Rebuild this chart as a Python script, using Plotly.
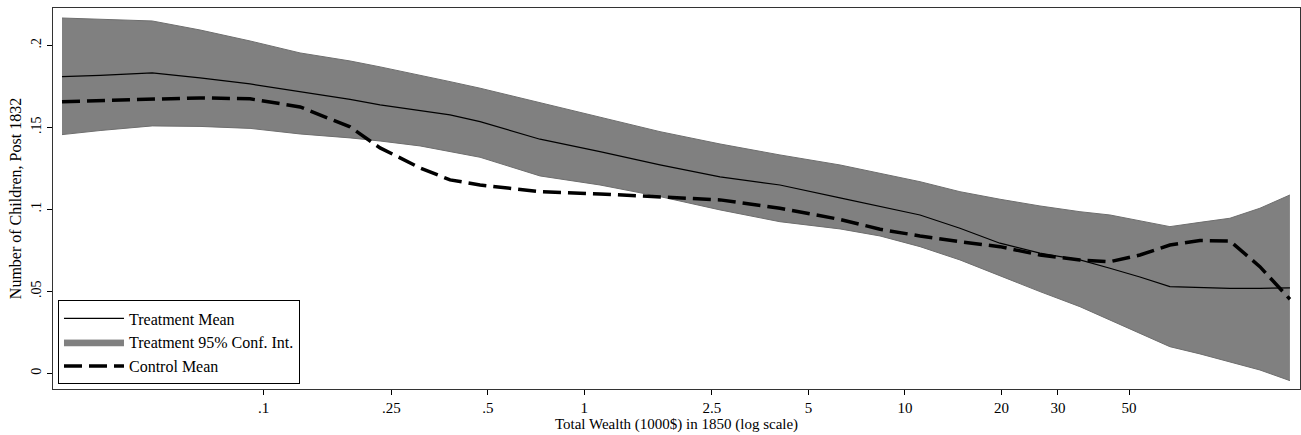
import plotly.graph_objects as go

# Total wealth (1000$) in 1850, log-scale positions of the sampled points
wealth = [0.0235, 0.0309, 0.0449, 0.0633, 0.0907, 0.1299, 0.186, 0.2307, 0.3074, 0.3813,
          0.4730, 0.7276, 1.119, 1.722, 2.650, 4.075, 6.271, 8.36, 11.14, 14.84,
          19.78, 26.36, 35.13, 43.57, 54.05, 67.03, 83.17, 103.1, 127.9, 158.7]

treat_upper = [0.2166, 0.2160, 0.2148, 0.2093, 0.2026, 0.1953, 0.1904, 0.1868, 0.1819, 0.1778,
               0.1738, 0.1650, 0.1565, 0.1473, 0.1398, 0.1331, 0.1270, 0.1220, 0.1168, 0.1107,
               0.1061, 0.1020, 0.0985, 0.0965, 0.0929, 0.0894, 0.0920, 0.0945, 0.1006, 0.1087]

treat_mean = [0.1809, 0.1816, 0.1831, 0.1801, 0.1764, 0.1715, 0.1670, 0.1636, 0.1599, 0.1575,
              0.1534, 0.1427, 0.1351, 0.1270, 0.1197, 0.1148, 0.1069, 0.1016, 0.0965, 0.0884,
              0.0793, 0.0732, 0.0691, 0.0640, 0.0587, 0.0528, 0.0523, 0.0518, 0.0518, 0.0520]

treat_lower = [0.1455, 0.1480, 0.1508, 0.1505, 0.1493, 0.1459, 0.1435, 0.1416, 0.1386, 0.1351,
               0.1317, 0.1203, 0.1148, 0.1077, 0.0996, 0.0924, 0.0880, 0.0837, 0.0772, 0.0691,
               0.0593, 0.0498, 0.0406, 0.0325, 0.0246, 0.0162, 0.0118, 0.0071, 0.0020, -0.0045]

control_mean = [0.1656, 0.1662, 0.1673, 0.1679, 0.1673, 0.1624, 0.1502, 0.1374, 0.1252, 0.1179,
                0.1148, 0.1107, 0.1093, 0.1077, 0.1057, 0.1006, 0.0938, 0.0878, 0.0837, 0.0802,
                0.0772, 0.0721, 0.0691, 0.0680, 0.0721, 0.0782, 0.0809, 0.0807, 0.0650, 0.0451]

x_tick_vals = [0.1, 0.25, 0.5, 1, 2.5, 5, 10, 20, 30, 50]
x_tick_text = [".1", ".25", ".5", "1", "2.5", "5", "10", "20", "30", "50"]
y_tick_vals = [0, 0.05, 0.1, 0.15, 0.2]
y_tick_text = ["0", ".05", ".1", ".15", ".2"]

FONT = "Liberation Serif"

fig = go.Figure()

# Lower bound of the band (base for the fill)
fig.add_trace(go.Scatter(
    x=wealth, y=treat_lower, mode="lines",
    line=dict(color="#6e6e6e", width=1),
    showlegend=False, hoverinfo="skip"))

fig.add_trace(go.Scatter(
    x=wealth, y=treat_upper, mode="lines",
    line=dict(color="#6e6e6e", width=1),
    fill="tonexty", fillcolor="#808080",
    name="Treatment 95% Conf. Int.", legendrank=2))

fig.add_trace(go.Scatter(
    x=wealth, y=treat_mean, mode="lines",
    line=dict(color="black", width=1.2),
    name="Treatment Mean", legendrank=1))

fig.add_trace(go.Scatter(
    x=wealth, y=control_mean, mode="lines",
    line=dict(color="black", width=3.5, dash="18px,7px"),
    name="Control Mean", legendrank=3))

fig.update_layout(
    width=1301, height=435,
    margin=dict(l=53, r=1, t=8, b=46),
    paper_bgcolor="white", plot_bgcolor="white",
    font=dict(family=FONT, size=14, color="black"),
    legend=dict(
        x=0.004, y=0.012, xanchor="left", yanchor="bottom",
        bgcolor="white", bordercolor="black", borderwidth=1,
        font=dict(family=FONT, size=16, color="black"),
        itemwidth=60, tracegroupgap=0, traceorder="normal",
    ),
    xaxis=dict(
        type="log",
        range=[-1.657, 2.232],
        tickmode="array", tickvals=x_tick_vals, ticktext=x_tick_text,
        ticks="outside", ticklen=5, tickcolor="black",
        showgrid=False, zeroline=False,
        showline=True, linecolor="#333333", linewidth=1, mirror=True,
        title=dict(text="Total Wealth (1000$) in 1850 (log scale)", standoff=2,
                   font=dict(family=FONT, size=15)),
        tickfont=dict(family=FONT, size=15),
    ),
    yaxis=dict(
        range=[-0.0096, 0.2227],
        tickmode="array", tickvals=y_tick_vals, ticktext=y_tick_text,
        tickangle=-90,
        ticks="outside", ticklen=5, tickcolor="black",
        showgrid=False, zeroline=False,
        showline=True, linecolor="#333333", linewidth=1, mirror=True,
        title=dict(text="Number of Children, Post 1832", standoff=3,
                   font=dict(family=FONT, size=16)),
        tickfont=dict(family=FONT, size=14),
    ),
)

fig.write_html("out.html", config={"displayModeBar": False},
               post_script="document.body.style.margin='0';")
